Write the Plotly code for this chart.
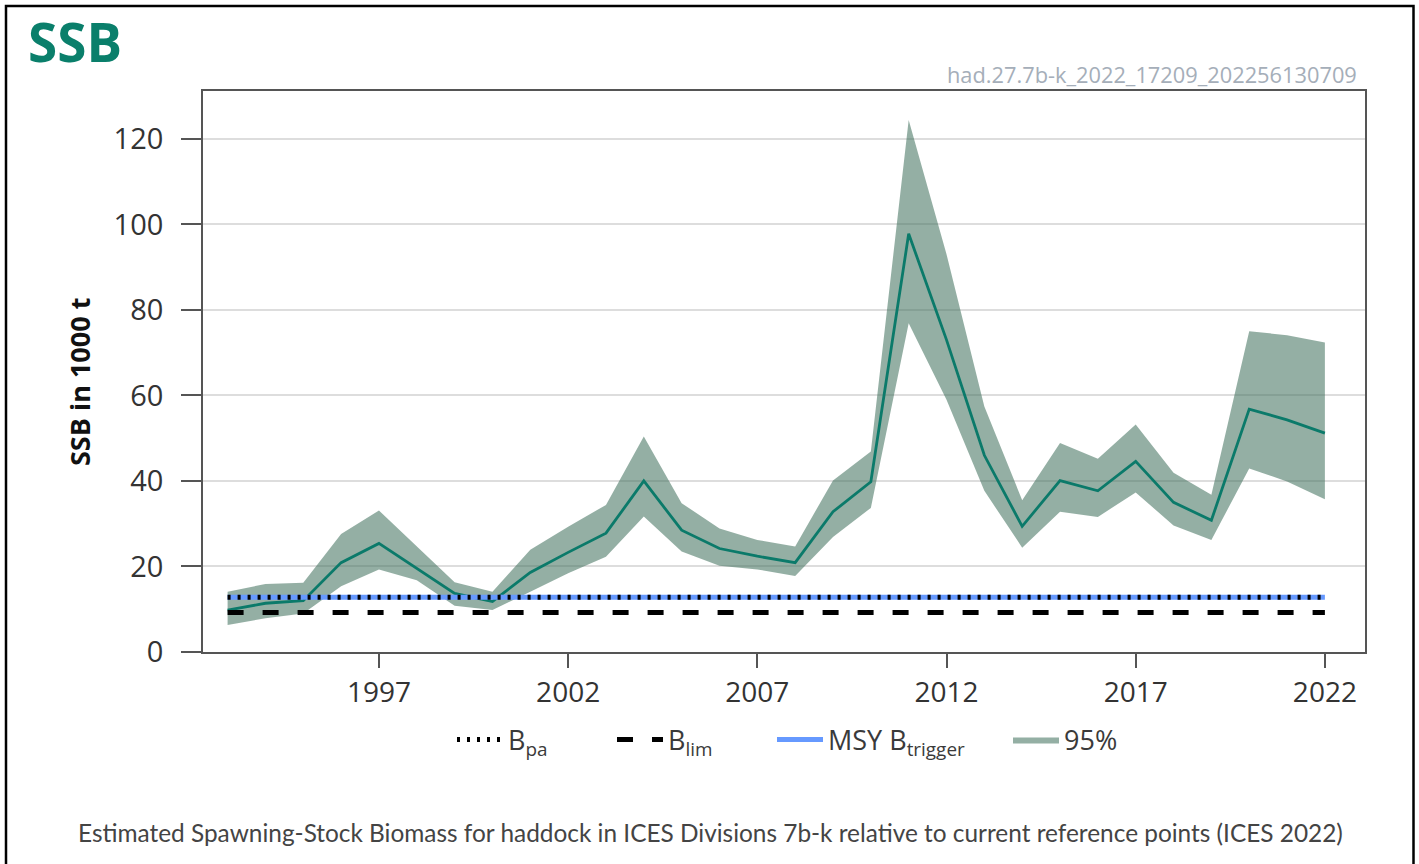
import plotly.graph_objects as go

# ---------------- data ----------------
years = list(range(1993, 2023))
ssb = [9.8, 11.4, 12.0, 20.9, 25.4, 19.6, 13.7, 11.8, 18.6, 23.3,
       27.8, 40.0, 28.5, 24.2, 22.4, 20.9, 32.8, 39.8, 97.8, 73.0,
       46.0, 29.4, 40.1, 37.7, 44.6, 35.0, 30.8, 56.8, 54.3, 51.2]
ssb_high = [14.1, 15.9, 16.2, 27.6, 33.1, 24.6, 16.3, 14.1, 23.9, 29.3,
            34.4, 50.4, 34.8, 28.9, 26.2, 24.7, 40.1, 46.9, 124.4, 93.0,
            57.4, 35.5, 48.9, 45.2, 53.2, 41.9, 36.8, 75.0, 74.1, 72.4]
ssb_low = [6.3, 7.9, 9.0, 15.4, 19.3, 16.8, 10.8, 9.8, 14.1, 18.4,
           22.3, 31.7, 23.5, 20.2, 19.3, 17.8, 26.9, 33.7, 76.9, 59.0,
           37.7, 24.4, 32.8, 31.6, 37.3, 29.6, 26.2, 42.9, 39.9, 35.7]
BLIM = 9.227
BPA = 12.822
MSY_BTRIGGER = 12.822
x_ticks = [1997, 2002, 2007, 2012, 2017, 2022]
y_ticks = [0, 20, 40, 60, 80, 100, 120]

# ---------------- layout geometry ----------------
W, H = 1419, 864
L, R, T, B = 203, 1365, 91, 652
pw, ph = R - L, B - T


def px(x):
    return (x - L) / pw


def py(y):
    return (B - y) / ph


FONT = "Open Sans"
LINE_COL = "#0b7a6a"
BAND_COL = "rgba(60,110,90,0.55)"

fig = go.Figure()

fig.add_trace(go.Scatter(x=years, y=ssb_low, mode="lines", line=dict(width=0, color=BAND_COL),
                         showlegend=False, hoverinfo="skip"))
fig.add_trace(go.Scatter(x=years, y=ssb_high, mode="lines", line=dict(width=0, color=BAND_COL),
                         fill="tonexty", fillcolor=BAND_COL, name="95%", legend="legend4"))
fig.add_trace(go.Scatter(x=years, y=ssb, mode="lines", line=dict(width=2.8, color=LINE_COL),
                         showlegend=False, name="SSB"))
fig.add_trace(go.Scatter(x=years, y=[MSY_BTRIGGER] * len(years), mode="lines",
                         line=dict(width=5, color="#6699ff"),
                         name="MSY B<sub>trigger</sub>", legend="legend3"))
fig.add_trace(go.Scatter(x=years, y=[BPA] * len(years), mode="lines",
                         line=dict(width=5, color="black", dash="3px,7px"),
                         name="B<sub>pa</sub>", legend="legend"))
fig.add_trace(go.Scatter(x=years, y=[BLIM] * len(years), mode="lines",
                         line=dict(width=5, color="black", dash="16px,19px"),
                         name="B<sub>lim</sub>", legend="legend2"))

leg_common = dict(orientation="h", yanchor="middle", xanchor="left", y=py(740),
                  font=dict(family=FONT, size=27, color="#3a3a3a"), itemwidth=46,
                  bgcolor="rgba(0,0,0,0)")

fig.update_layout(
    width=W, height=H,
    margin=dict(l=L, r=W - R, t=T, b=H - B, pad=0),
    paper_bgcolor="white", plot_bgcolor="white",
    font=dict(family=FONT, color="#333"),
    legend=dict(x=px(452), **leg_common),
    legend2=dict(x=px(612), **leg_common),
    legend3=dict(x=px(772), **leg_common),
    legend4=dict(x=px(1008), **leg_common),
    xaxis=dict(range=[1992.35, 2023.06], tickmode="array", tickvals=x_ticks,
               ticks="outside", ticklen=14, tickwidth=1.5, tickcolor="#555",
               showline=True, linecolor="#555", linewidth=1.8, mirror=True,
               showgrid=False, zeroline=False,
               tickfont=dict(family=FONT, size=28, color="#333")),
    yaxis=dict(range=[0, 131.2], tickmode="array", tickvals=y_ticks,
               ticks="outside", ticklen=20, tickwidth=1.5, tickcolor="#555",
               showline=True, linecolor="#555", linewidth=1.8, mirror=True,
               showgrid=True, gridcolor="#dddddd", gridwidth=1.5, zeroline=False,
               ticklabelstandoff=12,
               tickfont=dict(family=FONT, size=29, color="#333")),
    showlegend=True,
)

annotations = [
    dict(text="<b>SSB</b>", x=px(26), y=py(42), xref="paper", yref="paper",
         xanchor="left", yanchor="middle", showarrow=False,
         font=dict(family=FONT, size=53, color="#0a7f6b")),
    dict(text="had.27.7b-k_2022_17209_202256130709", x=px(1359), y=py(74),
         xref="paper", yref="paper", xanchor="right", yanchor="middle", showarrow=False,
         font=dict(family=FONT, size=21.8, color="#a5aeb9")),
    dict(text="<b>SSB in 1000 t</b>", x=px(79), y=py(382), xref="paper", yref="paper",
         xanchor="center", yanchor="middle", textangle=-90, showarrow=False,
         font=dict(family=FONT, size=27, color="#111")),
    dict(text="Estimated Spawning-Stock Biomass for haddock in ICES Divisions 7b-k relative to current reference points (ICES 2022)",
         x=px(710), y=py(832), xref="paper", yref="paper", xanchor="center", yanchor="middle",
         showarrow=False, font=dict(family="Lato", size=24.4, color="#444")),
]
fig.update_layout(annotations=annotations)

# outer frame
fig.add_shape(type="rect", xref="paper", yref="paper",
              x0=px(6), x1=px(1413.5), y0=py(875), y1=py(6),
              line=dict(color="black", width=2.5), fillcolor="rgba(0,0,0,0)", layer="above")

fig.write_html("out.html",
               config={"displayModeBar": False},
               post_script="document.body.style.margin='0px';document.body.style.overflow='hidden';")
